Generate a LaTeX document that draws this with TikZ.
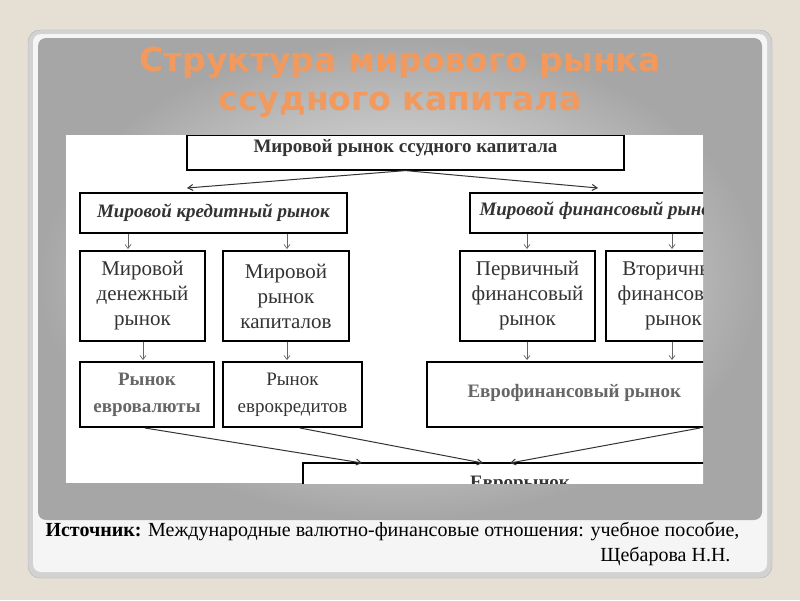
\documentclass[tikz,border=0pt]{standalone}
\usepackage{fontspec}
\setmainfont{Liberation Serif}
\newfontfamily\titlefont{DejaVu Sans}
\usetikzlibrary{arrows.meta}
\definecolor{bgbeige}{HTML}{E6DFD4}
\definecolor{ttlor}{HTML}{F29A5E}
\definecolor{txtg}{HTML}{333333}
\tikzset{
 bx/.style={draw=black,line width=1.2pt,fill=white},
 lbl/.style={align=center,text=txtg,font=\fontsize{21}{25}\selectfont},
 conn/.style={draw=black!80,line width=1pt,-{Straight Barb[length=5pt,width=6pt]}},
 sm/.style={draw=black!60,line width=0.7pt,-{Straight Barb[length=4pt,width=6pt]}}
}
\begin{document}
\begin{tikzpicture}[x=1pt,y=-1pt]
\useasboundingbox (0,0) rectangle (800,600);
\fill[bgbeige] (0,0) rectangle (800,600);
\fill[gray!35,draw=gray!60,rounded corners=12pt] (28,30) rectangle (772,578);
\fill[white!92!gray,rounded corners=8pt] (33,34) rectangle (767,572);
\shade[inner color=white!95!gray,outer color=gray!70,rounded corners=8pt] (38,38) rectangle (762,520);
\node[text=ttlor,font=\titlefont\bfseries\fontsize{33}{39}\selectfont,align=center] (title) at (400,82) {Структура мирового рынка\\ссудного капитала};
\fill[white] (66,135) rectangle (703,483);
\begin{scope}
\clip (66,135) rectangle (703,483);
\node[bx,minimum width=437,minimum height=35] (top) at (405.5,152.5) {};
\node[font=\bfseries\fontsize{19}{22}\selectfont,text=txtg] (toplbl) at (405.5,148) {Мировой рынок ссудного капитала};
\node[bx,minimum width=267,minimum height=40] (cred) at (213.5,213) {};
\node[font=\bfseries\itshape\fontsize{19}{22}\selectfont,text=txtg] at (cred) {Мировой кредитный рынок};
\node[bx,minimum width=260,minimum height=40] (fin) at (600,213) {};
\node[font=\bfseries\itshape\fontsize{19}{22}\selectfont,text=txtg,anchor=west] at (476,211) {Мировой финансовый рынок};
\node[bx,minimum width=125,minimum height=90] (mon) at (142.5,296) {};
\node[lbl] at (mon) {Мировой\\денежный\\рынок};
\node[bx,minimum width=126,minimum height=90] (cap) at (286,296) {};
\node[lbl] at (cap) {Мировой\\рынок\\капиталов};
\node[bx,minimum width=135,minimum height=90] (prim) at (527.5,296) {};
\node[lbl] at (prim) {Первичный\\финансовый\\рынок};
\node[bx,minimum width=135,minimum height=90] (sec) at (673.5,296) {};
\node[lbl] at (sec) {Вторичный\\финансовый\\рынок};
\node[bx,minimum width=134,minimum height=65] (ecur) at (147,394.5) {};
\node[lbl,font=\bfseries\fontsize{19}{27}\selectfont,text=black!60] at (ecur) {Рынок\\евровалюты};
\node[bx,minimum width=139,minimum height=65] (ecr) at (292.5,394.5) {};
\node[lbl,font=\fontsize{19}{27}\selectfont] at (ecr) {Рынок\\еврокредитов};
\node[bx,minimum width=300,minimum height=65] (efin) at (577,394.5) {};
\node[font=\bfseries\fontsize{19}{22}\selectfont,text=black!60,anchor=west] at (464,393) {Еврофинансовый рынок};
\node[bx,minimum width=420,minimum height=40] (euro) at (513,483) {};
\node[font=\bfseries\fontsize{19}{22}\selectfont,text=txtg] at (520,484) {Еврорынок};
\draw[conn] (top.south) -- (187,188);
\draw[conn] (top.south) -- (598,188);
\draw[sm] (128,234) -- (128,249);
\draw[sm] (287,234) -- (287,249);
\draw[sm] (527,234) -- (527,249);
\draw[sm] (672,234) -- (672,249);
\draw[sm] (143,342) -- (143,360);
\draw[sm] (287,342) -- (287,360);
\draw[sm] (527,342) -- (527,360);
\draw[sm] (672,342) -- (672,360);
\draw[conn] (145,428) -- (362,463);
\draw[conn] (300,428) -- (483,463);
\draw[conn] (700,428) -- (510,463);
\end{scope}
\node[anchor=west,font=\fontsize{20}{22}\selectfont] (src) at (42,531) {\textbf{Источник:} Международные валютно-финансовые отношения: учебное пособие,};
\node[anchor=east,font=\fontsize{20}{22}\selectfont] (auth) at (734,556) {Щебарова Н.Н.};
\end{tikzpicture}
\end{document}
